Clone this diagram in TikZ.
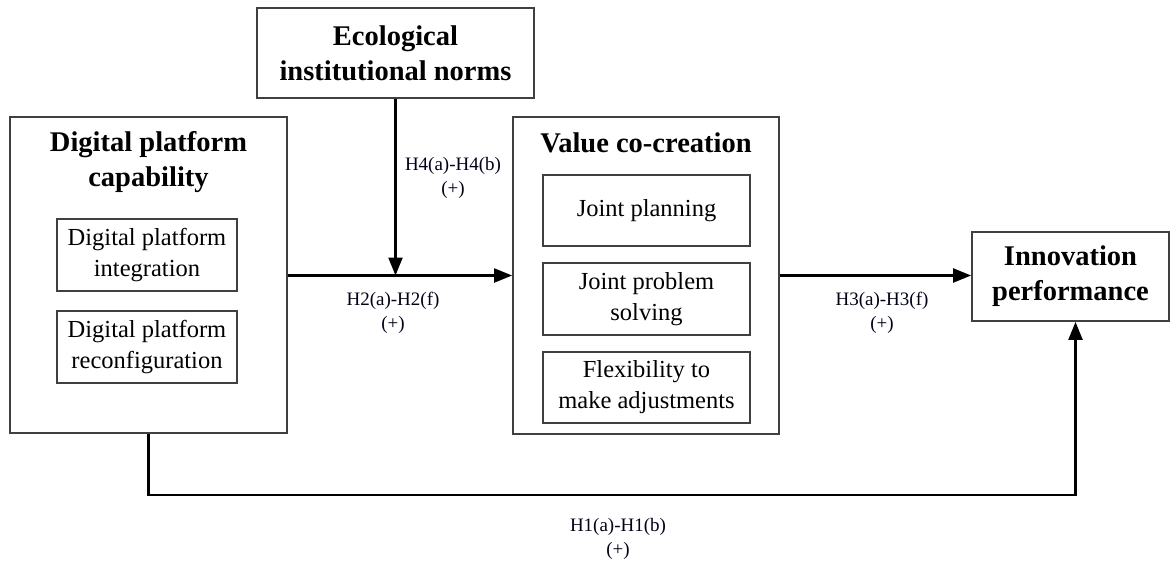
\documentclass[tikz,border=0pt]{standalone}
\usepackage{fontspec}
\setmainfont{Liberation Serif}
\usetikzlibrary{arrows.meta}
\begin{document}
\begin{tikzpicture}[x=1pt,y=-1pt,
  box/.style={draw=black!75,line width=1.8pt,minimum width=#1,inner sep=0pt},
  ttl/.style={font=\fontsize{28.5}{35}\selectfont\bfseries,align=center,inner sep=0pt},
  inner/.style={font=\fontsize{24.5}{31}\selectfont,align=center},
  lbl/.style={font=\fontsize{19}{24}\selectfont,align=center,inner sep=0pt,text=black!90!blue},
  arr/.style={line width=2.2pt,-{Triangle[length=18pt,width=14pt]}},
  ln/.style={line width=2.2pt}]
\useasboundingbox (0,0) rectangle (1172,562);
% boxes
\node[box=277pt,minimum height=90pt,ttl] (eco) at (395.5,53) {Ecological\\institutional norms};
\node[box=277pt,minimum height=316pt] (dpc) at (148.5,275) {};
\node[ttl] (dpct) at (148.5,162) {Digital platform\\capability};
\node[box=180pt,minimum height=72pt,inner] (dpi) at (147,255) {Digital platform\\integration};
\node[box=180pt,minimum height=72pt,inner] (dpr) at (147,347) {Digital platform\\reconfiguration};
\node[box=266pt,minimum height=317pt] (vcc) at (646,275.5) {};
\node[ttl] (vcct) at (646,143) {Value co-creation};
\node[box=207pt,minimum height=71pt,inner] (jp) at (646.5,210.5) {Joint planning};
\node[box=207pt,minimum height=72pt,inner] (jps) at (646.5,299) {Joint problem\\solving};
\node[box=207pt,minimum height=71pt,inner] (flex) at (646.5,387.5) {Flexibility to\\make adjustments};
\node[box=197pt,minimum height=89pt,ttl] (inn) at (1070.5,276.5) {Innovation\\performance};
% connectors
\coordinate (a2) at ([yshift=-0.5pt]dpc.east);
\draw[arr] (a2) -- (a2 -| vcc.west);
\draw[arr] (eco.south) -- (eco.south |- a2);
\draw[arr] (vcc.east) -- (vcc.east -| inn.west);
\coordinate (bl) at (148.5,495);
\draw[arr] (dpc.south) -- (bl) -| ([xshift=5pt]inn.south);
% labels
\node[lbl] (l4) at (453,178) {H4(a)-H4(b)\\(+)};
\node[lbl] (l2) at (393,313) {H2(a)-H2(f)\\(+)};
\node[lbl] (l3) at (882,313) {H3(a)-H3(f)\\(+)};
\node[lbl] (l1) at (618,539) {H1(a)-H1(b)\\(+)};
\end{tikzpicture}
\end{document}
